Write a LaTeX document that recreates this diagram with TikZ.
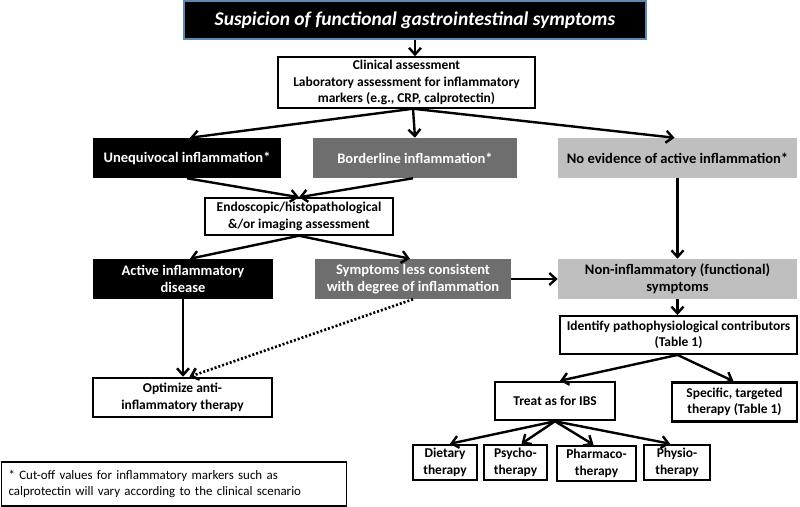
\documentclass[tikz,border=0pt]{standalone}
\usepackage{fontspec}
\setmainfont{Carlito}
\usetikzlibrary{arrows.meta,calc}
\definecolor{dgray}{RGB}{110,110,110}
\definecolor{lgray}{RGB}{191,191,191}
\definecolor{tblue}{RGB}{95,135,180}
\begin{document}
\begin{tikzpicture}[x=0.75pt,y=-0.75pt,
  sz/.style 2 args={minimum width=#1*0.75pt,minimum height=#2*0.75pt},
  base/.style={inner sep=1pt,align=center,font=\fontsize{10.1}{12.4}\selectfont\bfseries},
  fbase/.style={inner sep=1pt,align=center,font=\fontsize{10.9}{12.4}\selectfont\bfseries},
  wbox/.style={base,draw=black,fill=white,line width=1.1pt},
  tbox/.style={base,draw=black,fill=white,line width=1.9pt},
  blkbox/.style={fbase,fill=black,text=white},
  dgbox/.style={fbase,fill=dgray,text=white},
  lgbox/.style={fbase,fill=lgray,text=black},
  conn/.style={line width=1.8pt,-{Straight Barb[length=5pt,width=9pt]}},
  dotconn/.style={line width=2pt,dash pattern=on 1.5pt off 1.5pt,-{Straight Barb[length=5pt,width=9pt]}}
]
\useasboundingbox (0,0) rectangle (800,507);

\node[inner sep=1pt,sz={462}{38},fill=black,draw=tblue,line width=1.3pt,text=white,
      font=\fontsize{14.6}{17}\selectfont\bfseries\itshape] (title) at (415,20)
  {Suspicion of functional gastrointestinal symptoms};

\node[wbox,sz={257}{51}] (clin) at (406.5,82.5)
  {Clinical assessment\\Laboratory assessment for inflammatory\\markers (e.g., CRP, calprotectin)};

\node[blkbox,sz={188}{40}] (uneq) at (187,158) {Unequivocal inflammation*};
\node[dgbox,sz={204}{40}] (border) at (415,158) {Borderline inflammation*};
\node[lgbox,sz={239}{40}] (noev) at (677.5,158) {No evidence of active inflammation*};

\node[wbox,sz={188}{37}] (endo) at (299,216.5)
  {Endoscopic/histopathological\\\&/or imaging assessment};

\node[blkbox,sz={180}{40}] (active) at (183,279) {Active inflammatory\\disease};
\node[dgbox,sz={196}{40}] (less) at (413,279) {Symptoms less consistent\\with degree of inflammation};
\node[lgbox,sz={239}{40}] (nonin) at (677.5,279) {Non-inflammatory (functional)\\symptoms};

\node[base,draw=black,fill=white,line width=1.4pt,sz={237}{38}] (ident) at (678.5,335)
  {Identify pathophysiological contributors\\(Table 1)};

\node[tbox,sz={179}{39}] (optim) at (182.5,397.5) {Optimize anti-\\inflammatory therapy};
\node[tbox,sz={120}{38}] (treat) at (555,401) {Treat as for IBS};
\node[tbox,sz={125}{39}] (spec) at (734.5,402) {Specific, targeted\\therapy (Table 1)};

\node[tbox,sz={64}{35}] (diet) at (445,462.5) {Dietary\\therapy};
\node[tbox,sz={63}{35}] (psych) at (515.5,462.5) {Psycho-\\therapy};
\node[tbox,sz={79}{35}] (pharm) at (596.5,463.5) {Pharmaco-\\therapy};
\node[tbox,sz={66}{35}] (phys) at (677,462.5) {Physio-\\therapy};

\node[draw=black,line width=0.9pt,fill=white,align=left,anchor=west,
      text width=331*0.75pt,inner xsep=7*0.75pt,minimum height=44*0.75pt,
      font=\fontsize{9.7}{11.6}\selectfont] (foot) at (1,484)
  {* Cut-off values for inflammatory markers such as\\calprotectin will vary according to the clinical scenario};

% connectors
\draw[conn] (title.south) -- (title.south |- clin.north);
\coordinate (cs) at ($(clin.south)+(6.5,0)$);
\draw[conn] (cs) -- ($(uneq.north)+(3,0)$);
\draw[conn] (cs) -- (border.north);
\draw[conn] (cs) -- ($(noev.north)+(-3,0)$);

\draw[conn] (uneq.south) -- (endo.north);
\draw[conn] ($(border.south)+(-2,0)$) -- (endo.north);

\draw[conn] (endo.south) -- ($(active.north)+(7,0)$);
\draw[conn] (endo.south) -- ($(less.north)+(-3,0)$);

\draw[conn] (less.east) -- (nonin.west);
\draw[conn] (noev.south) -- (noev.south |- nonin.north);
\draw[conn] (nonin.south) -- (nonin.south |- ident.north);

\draw[conn] (active.south) -- (active.south |- optim.north);
\draw[dotconn] (less.south) -- ($(optim.north)+(7,0)$);

\draw[conn] ($(ident.south)+(-1,0)$) -- ($(treat.north)+(5,0)$);
\draw[conn] ($(ident.south)+(-1,0)$) -- ($(spec.north)+(-1,0)$);

\draw[conn] (treat.south) -- ($(diet.north)+(5,0)$);
\draw[conn] (treat.south) -- ($(psych.north)+(6,0)$);
\draw[conn] (treat.south) -- ($(pharm.north)+(-3,0)$);
\draw[conn] (treat.south) -- ($(phys.north)+(-7,0)$);
\end{tikzpicture}
\end{document}
